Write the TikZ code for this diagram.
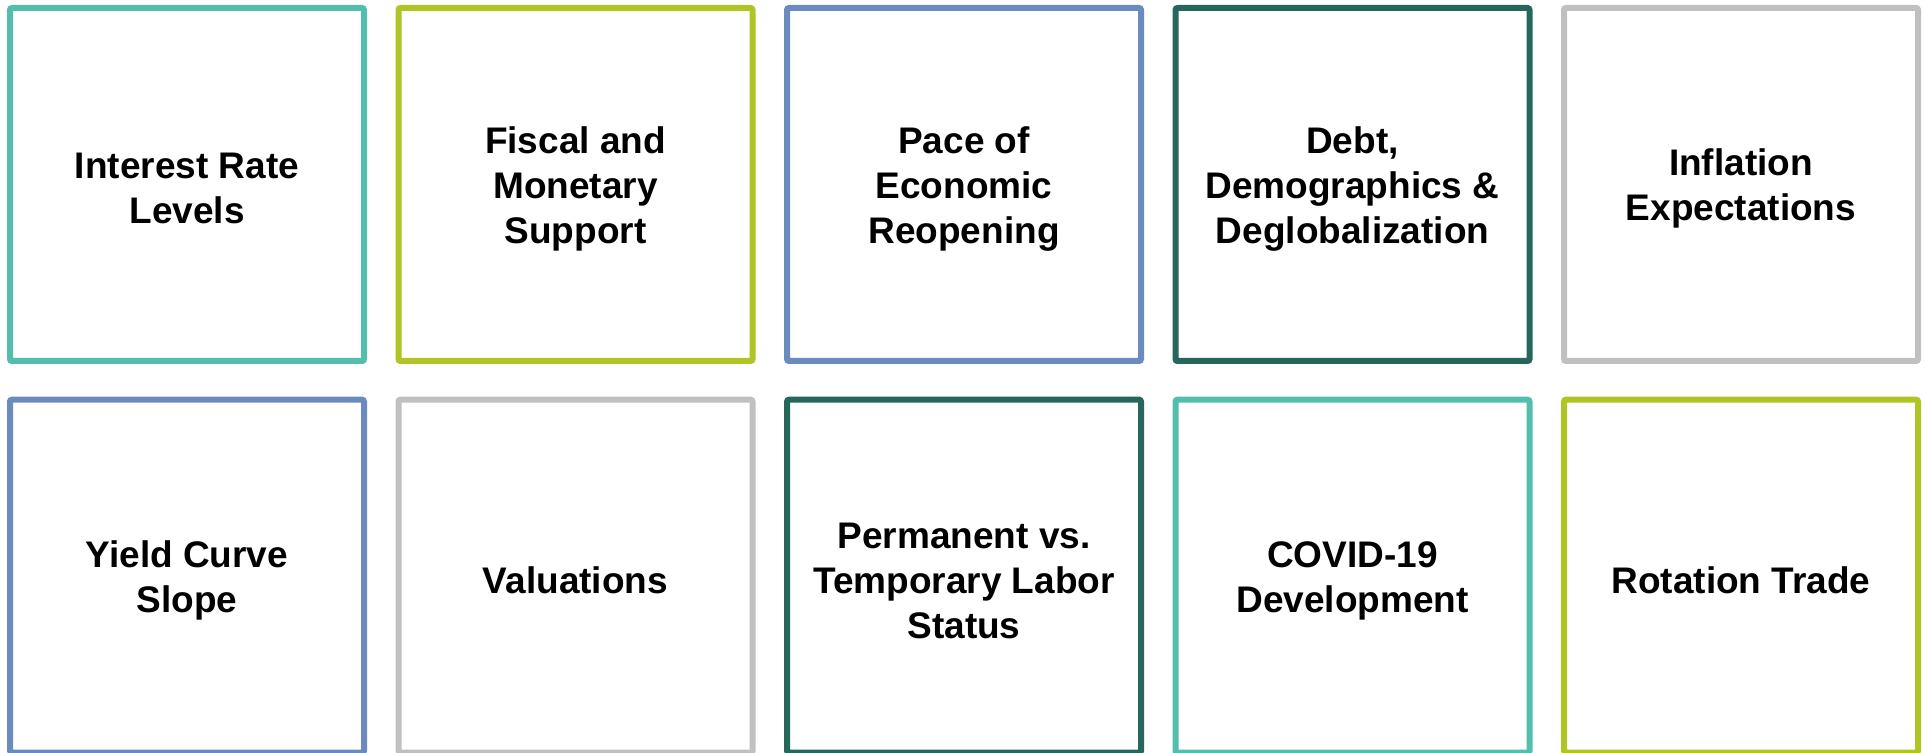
\documentclass[tikz,border=0pt]{standalone}
\usepackage{fontspec}
\setmainfont{Liberation Sans}
\usepackage{xcolor}
\usetikzlibrary{positioning}

\definecolor{tealc}{RGB}{84,190,174}
\definecolor{limec}{RGB}{176,196,35}
\definecolor{bluec}{RGB}{107,139,190}
\definecolor{darkc}{RGB}{39,102,90}
\definecolor{grayc}{RGB}{192,192,192}

\tikzset{
  factor/.style={draw=#1, line width=3pt, rounded corners=1pt, fill=white,
    minimum width=177pt, minimum height=176.5pt, inner sep=0pt},
  factortext/.style={align=center, yshift=-2.2pt, inner sep=0pt,
    font=\fontsize{18.5}{22.5}\selectfont\bfseries}
}

\begin{document}
\begin{tikzpicture}[x=1pt,y=1pt]
\useasboundingbox (0,0) rectangle (962.5,376.5);

% Top row
\node[factor=tealc, label={[factortext]center:Interest Rate\\Levels}] (rates) at (93.5,284.25) {};
\node[factor=limec, label={[factortext]center:Fiscal and\\Monetary\\Support}] (fiscal) at (287.75,284.25) {};
\node[factor=bluec, label={[factortext]center:Pace of\\Economic\\Reopening}] (reopen) at (482,284.25) {};
\node[factor=darkc, label={[factortext]center:{Debt,\\Demographics \&\\Deglobalization}}] (debt) at (676.25,284.25) {};
\node[factor=grayc, label={[factortext]center:Inflation\\Expectations}] (infl) at (870.5,284.25) {};

% Bottom row
\node[factor=bluec, label={[factortext]center:Yield Curve\\Slope}] (curve) at (93.5,88.4) {};
\node[factor=grayc, label={[factortext]center:Valuations}] (valn) at (287.75,88.4) {};
\node[factor=darkc, label={[factortext]center:Permanent vs.\\Temporary Labor\\Status}] (labor) at (482,88.4) {};
\node[factor=tealc, label={[factortext]center:COVID-19\\Development}] (covid) at (676.25,88.4) {};
\node[factor=limec, label={[factortext]center:Rotation Trade}] (rotation) at (870.5,88.4) {};

\end{tikzpicture}
\end{document}
